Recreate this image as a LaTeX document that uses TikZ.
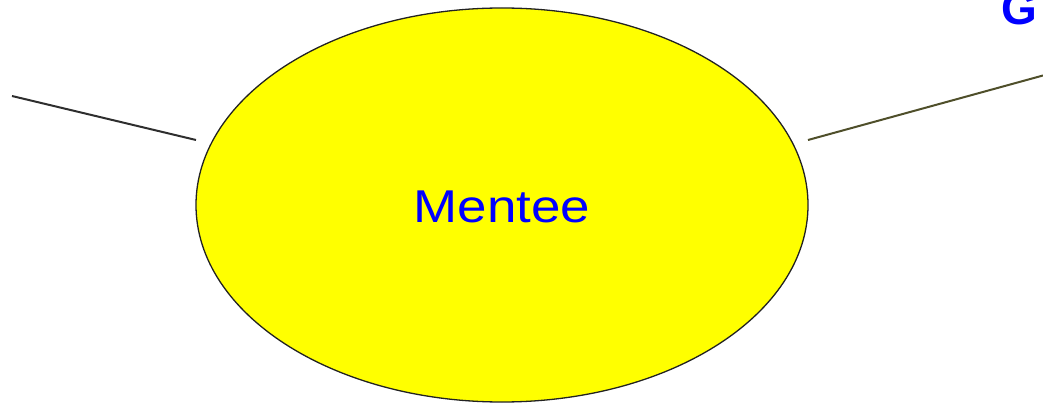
\documentclass[tikz,border=0pt]{standalone}
\usepackage{fontspec}
\setmainfont{Liberation Sans}
\usetikzlibrary{shapes.geometric}
\definecolor{lineleft}{HTML}{2E2E2E}
\definecolor{lineright}{HTML}{4F4F2A}
\definecolor{txtblue}{HTML}{0000FF}
\definecolor{bubblefill}{HTML}{FFFF00}
\definecolor{bubbleline}{HTML}{222222}
\begin{document}
\begin{tikzpicture}[x=1pt,y=-1pt,
  bubble/.style={ellipse,draw=bubbleline,line width=1.3pt,fill=bubblefill,minimum width=612pt,minimum height=394pt,inner sep=0pt},
  label/.style={text=txtblue,font=\fontsize{46}{46}\selectfont,inner sep=0pt},
  link/.style={line width=2pt}]
\useasboundingbox (0,0) rectangle (1043,403);
\node[bubble] (m) at (502,205) {};
\node[label,anchor=base] (t) at (502,223) {\scalebox{1.15}[1]{Mentee}};
\node[label,anchor=base west,font=\fontsize{46}{46}\selectfont\bfseries] (g) at (1001,25) {G};
\coordinate (l1) at (12,96);
\coordinate (l2) at (196,140);
\coordinate (r1) at (808,140);
\coordinate (r2) at (1043,75.5);
\draw[link,lineleft] (l1) -- (l2);
\draw[link,lineright] (r1) -- (r2);
\end{tikzpicture}
\end{document}
